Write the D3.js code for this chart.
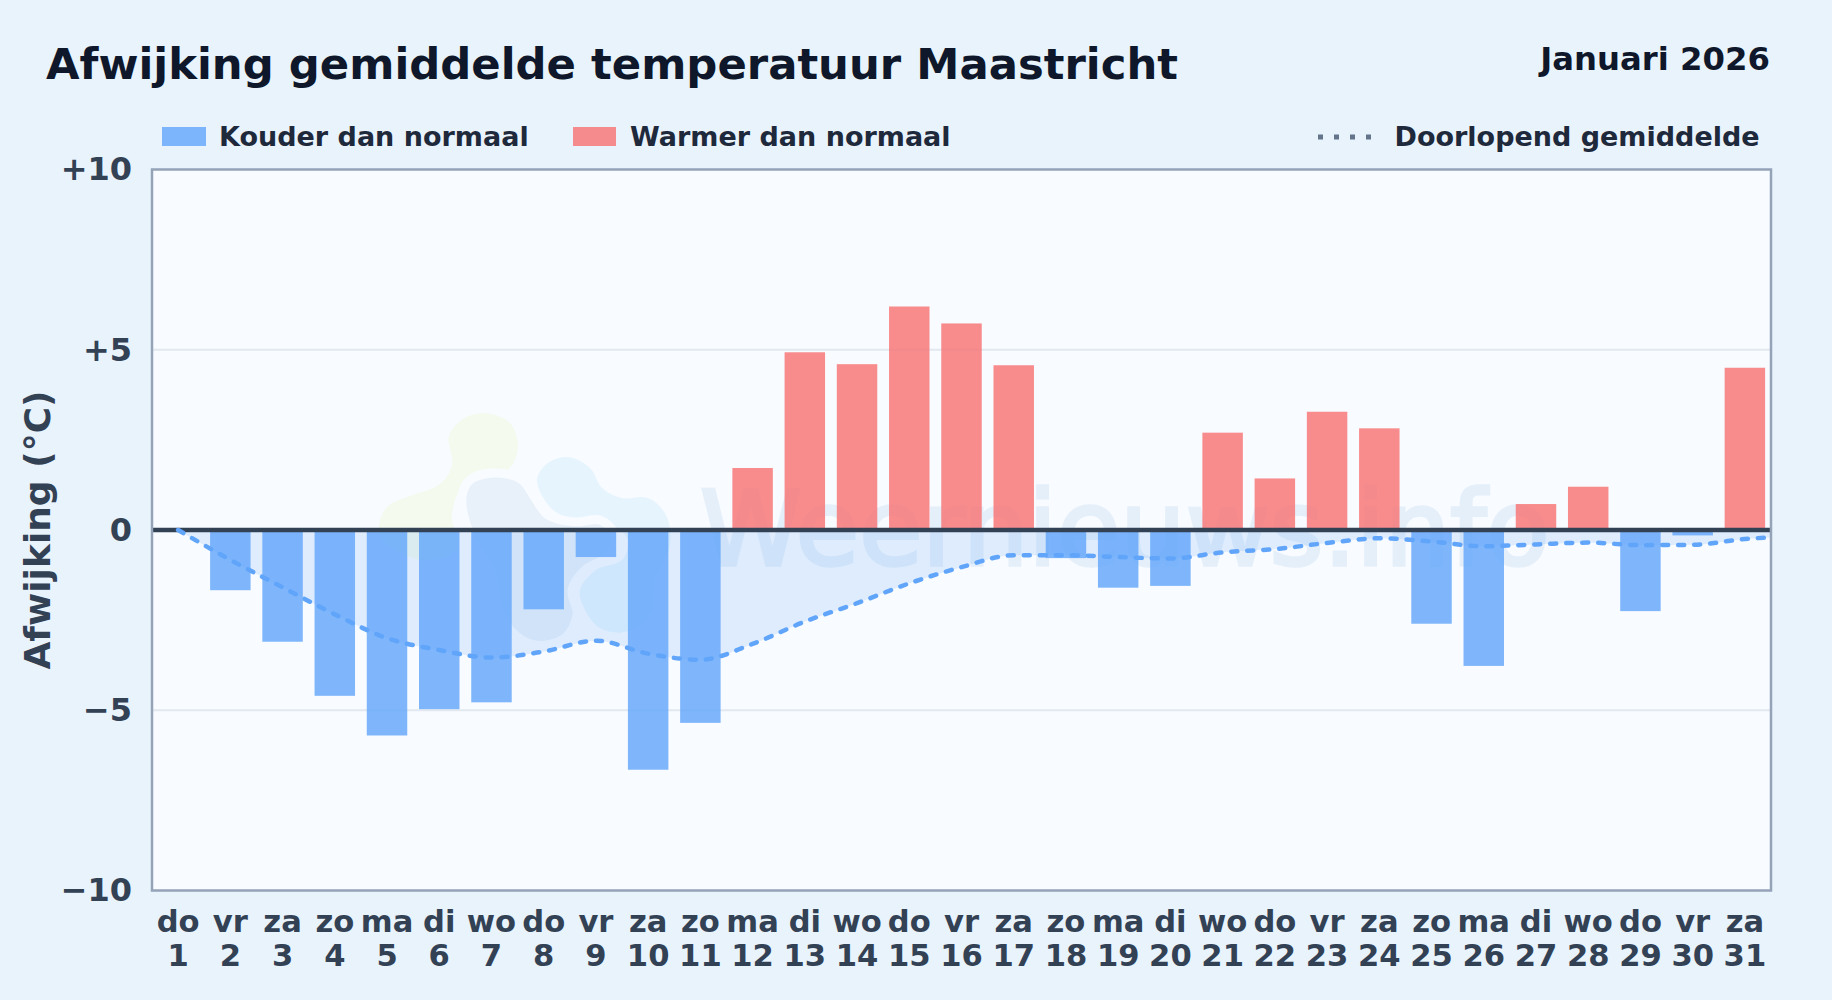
<!DOCTYPE html>
<html>
<head>
<meta charset="utf-8">
<script src="https://cdn.jsdelivr.net/npm/d3@7"></script>
<style>
    html, body { margin: 0; padding: 0; background: #e8f3fc; }
    text { font-family: "DejaVu Sans", sans-serif; font-weight: bold; }
</style>
</head>
<body>
<script>
const weekdays = ['do','vr','za','zo','ma','di','wo','do','vr','za','zo','ma','di','wo','do','vr','za','zo','ma','di','wo','do','vr','za','zo','ma','di','wo','do','vr','za'];
const days = [1,2,3,4,5,6,7,8,9,10,11,12,13,14,15,16,17,18,19,20,21,22,23,24,25,26,27,28,29,30,31];
const deviation = [0,-1.67,-3.1,-4.6,-5.7,-4.97,-4.78,-2.2,-0.75,-6.65,-5.35,1.72,4.93,4.6,6.2,5.73,4.57,-0.78,-1.6,-1.55,2.7,1.43,3.28,2.82,-2.6,-3.77,0.72,1.2,-2.25,-0.15,4.5];
// last value runs on past the plot edge, the line is clipped there
const runningMean = [0,-0.83,-1.59,-2.34,-3.0,-3.33,-3.54,-3.37,-3.07,-3.43,-3.6,-3.16,-2.54,-2.03,-1.48,-1.03,-0.7,-0.7,-0.75,-0.79,-0.62,-0.53,-0.36,-0.23,-0.32,-0.45,-0.4,-0.35,-0.42,-0.41,-0.25,-0.18];
const yTicks = [10,5,0,-5,-10];

const margin = { top: 169.5, right: 61, bottom: 109.5, left: 152 };
const width = 1832 - margin.left - margin.right;
const height = 1000 - margin.top - margin.bottom;

const svg = d3.select('body').append('svg')
    .attr('width', 1832)
    .attr('height', 1000)
    .style('display', 'block');

svg.append('rect').attr('width', 1832).attr('height', 1000).attr('fill', '#e8f3fc');

svg.append('clipPath').attr('id', 'plot-clip')
    .append('rect').attr('width', width).attr('height', height);

const plotBg = svg.append('g').attr('transform', `translate(${margin.left},${margin.top})`);
plotBg.append('rect').attr('width', width).attr('height', height).attr('fill', '#f8fbff');

// watermark logo, page coordinates
const logo = svg.append('g');
const blob = d3.line().curve(d3.curveCatmullRomClosed.alpha(0.5));
logo.append('path')
    .attr('d', blob([[380,535],[386,508],[410,496],[440,484],[452,465],[449,436],[463,419],[485,413],[510,423],[518,447],[508,470],[478,478],[460,490],[452,515],[456,550],[420,560]]))
    .attr('fill', '#f5faef');
logo.append('path')
    .attr('d', blob([[537,480],[548,463],[568,457],[590,468],[602,488],[622,498],[648,498],[666,515],[670,545],[655,580],[650,615],[625,632],[600,628],[585,610],[580,590],[596,570],[622,560],[628,540],[612,525],[580,520],[553,510]]))
    .attr('fill', '#e6f4fe');
logo.append('path')
    .attr('d', blob([[462,497],[470,480],[495,473],[522,480],[535,498],[548,515],[575,522],[600,520],[615,535],[610,555],[585,570],[572,590],[577,615],[565,638],[535,645],[510,630],[498,605],[490,570],[470,535]]))
    .attr('fill', '#e8f0f9')
    .attr('stroke', '#f8fbff')
    .attr('stroke-width', 9);

logo.append('text')
    .attr('x', 700)
    .attr('y', 565)
    .attr('font-size', 103)
    .style('font-weight', 'normal')
    .attr('fill', '#e5effa')
    .attr('stroke', '#e5effa')
    .attr('stroke-width', 3.5)
    .text('Weernieuws.info');

const g = svg.append('g').attr('transform', `translate(${margin.left},${margin.top})`);

const x = d3.scaleBand().domain(days).range([0, width]).paddingInner(0.225).paddingOuter(0.1125);
const y = d3.scaleLinear().domain([-10, 10]).range([height, 0]);
const cx = d => x(d) + x.bandwidth() / 2;
const xLine = d3.scaleLinear().domain([1, 31]).range([cx(1), cx(31)]);

// grid lines
g.append('g')
    .selectAll('line')
    .data([5, -5])
    .join('line')
    .attr('x1', 0)
    .attr('x2', width)
    .attr('y1', d => y(d))
    .attr('y2', d => y(d))
    .attr('stroke', '#e2e8f0')
    .attr('stroke-width', 2);

// area between zero and running mean
g.append('path')
    .datum(runningMean)
    .attr('clip-path', 'url(#plot-clip)')
    .attr('fill', '#60a5fa')
    .attr('fill-opacity', 0.17)
    .attr('d', d3.area()
        .curve(d3.curveMonotoneX)
        .x((d, i) => xLine(i + 1))
        .y0(y(0))
        .y1(d => y(d))
    );

// bars
g.append('g')
    .selectAll('rect')
    .data(days.filter((d, i) => deviation[i] !== 0))
    .join('rect')
    .attr('x', d => x(d))
    .attr('width', x.bandwidth())
    .attr('y', d => y(Math.max(0, deviation[d - 1])))
    .attr('height', d => Math.abs(y(deviation[d - 1]) - y(0)))
    .attr('fill', d => deviation[d - 1] < 0 ? '#60a5fa' : '#f87171')
    .attr('fill-opacity', 0.8);

// zero line
g.append('line')
    .attr('x1', 0)
    .attr('x2', width)
    .attr('y1', y(0))
    .attr('y2', y(0))
    .attr('stroke', '#334155')
    .attr('stroke-width', 4.5);

// running mean
g.append('path')
    .datum(runningMean)
    .attr('clip-path', 'url(#plot-clip)')
    .attr('fill', 'none')
    .attr('stroke', '#60a5fa')
    .attr('stroke-width', 4.5)
    .attr('stroke-linecap', 'round')
    .attr('stroke-dasharray', '6 10')
    .attr('d', d3.line()
        .curve(d3.curveMonotoneX)
        .x((d, i) => xLine(i + 1))
        .y(d => y(d))
    );

// plot border
g.append('rect')
    .attr('width', width)
    .attr('height', height)
    .attr('fill', 'none')
    .attr('stroke', '#94a3b8')
    .attr('stroke-width', 2.5);

// axes
const yAxis = d3.axisLeft(y)
    .tickValues(yTicks)
    .tickSize(0)
    .tickPadding(20)
    .tickFormat(d => d > 0 ? `+${d}` : d < 0 ? `\u2212${-d}` : '0');

g.append('g')
    .call(yAxis)
    .call(a => a.select('.domain').remove())
    .selectAll('text')
    .attr('font-size', 32)
    .style('font-family', '"DejaVu Sans", sans-serif')
    .attr('fill', '#334155');

const xAxis = d3.axisBottom(x).tickSize(0).tickFormat('');

g.append('g')
    .attr('transform', `translate(0,${height})`)
    .call(xAxis)
    .call(a => a.select('.domain').remove())
    .call(a => a.selectAll('.tick text').each(function (d, i) {
        const t = d3.select(this).attr('y', 0).attr('dy', null)
            .attr('font-size', 30.6)
            .style('font-family', '"DejaVu Sans", sans-serif')
            .attr('fill', '#334155');
        t.append('tspan').attr('x', 0).attr('y', 41).text(weekdays[i]);
        t.append('tspan').attr('x', 0).attr('y', 75).text(days[i]);
    }));

// y axis title
svg.append('text')
    .attr('transform', 'translate(37,530) rotate(-90)')
    .attr('text-anchor', 'middle')
    .attr('dominant-baseline', 'central')
    .attr('font-size', 36)
    .attr('fill', '#334155')
    .text('Afwijking (\u00b0C)');

// title
svg.append('text')
    .attr('x', 46)
    .attr('y', 79)
    .attr('font-size', 43.35)
    .attr('fill', '#0f172a')
    .text('Afwijking gemiddelde temperatuur Maastricht');

svg.append('text')
    .attr('x', 1770)
    .attr('y', 70)
    .attr('text-anchor', 'end')
    .attr('font-size', 32.3)
    .attr('fill', '#0f172a')
    .text('Januari 2026');

// legend
const legendFont = 27;
svg.append('rect').attr('x', 162).attr('y', 127).attr('width', 44).attr('height', 19).attr('fill', '#60a5fa').attr('fill-opacity', 0.8);
svg.append('text').attr('x', 219).attr('y', 146).attr('font-size', legendFont).attr('fill', '#1e293b').text('Kouder dan normaal');
svg.append('rect').attr('x', 573).attr('y', 127).attr('width', 43).attr('height', 19).attr('fill', '#f87171').attr('fill-opacity', 0.8);
svg.append('text').attr('x', 630).attr('y', 146).attr('font-size', legendFont).attr('fill', '#1e293b').text('Warmer dan normaal');
svg.append('line')
    .attr('x1', 1318).attr('x2', 1375).attr('y1', 137).attr('y2', 137)
    .attr('stroke', '#64748b').attr('stroke-width', 5).attr('stroke-dasharray', '5 11');
svg.append('text').attr('x', 1394.5).attr('y', 146).attr('font-size', legendFont).attr('fill', '#1e293b').text('Doorlopend gemiddelde');
</script>
</body>
</html>
